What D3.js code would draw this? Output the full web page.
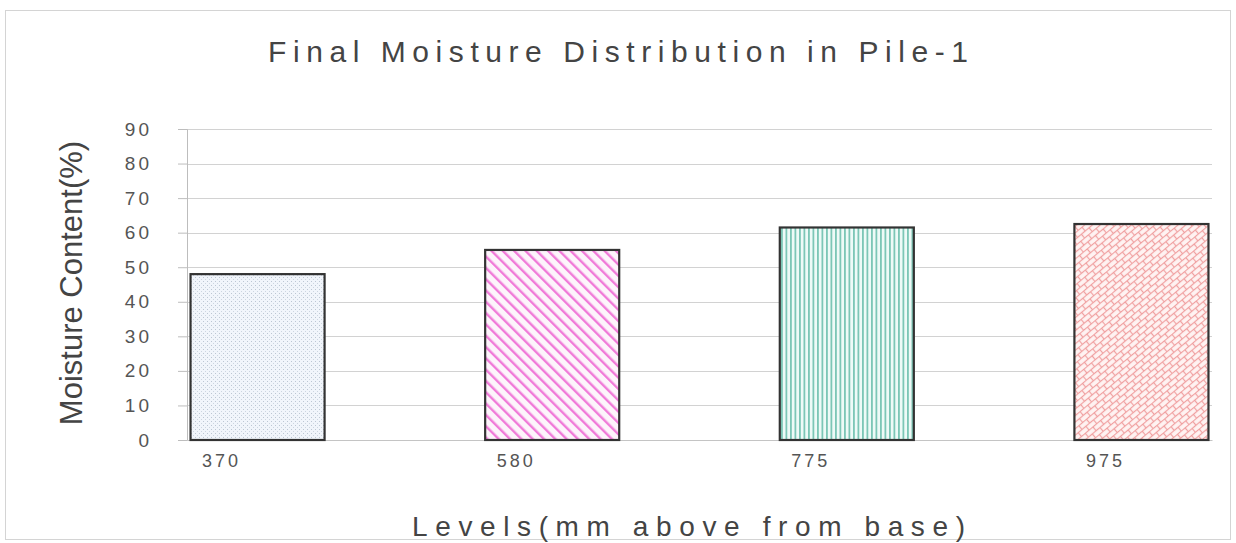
<!DOCTYPE html>
<html>
<head>
<meta charset="utf-8">
<script src="https://cdn.jsdelivr.net/npm/d3@7/dist/d3.min.js"></script>
<style>
  html, body { margin: 0; padding: 0; background: #fff; }
  svg { display: block; font-family: Arial, "Liberation Sans", sans-serif; }
</style>
</head>
<body>
<svg id="chart" width="1236" height="543"></svg>
<script>
// Final moisture content at each sampling level of the pile
const levels = ["370", "580", "775", "975"];
const moisture = [48, 55, 61.5, 62.5];
const yTicks = [0, 10, 20, 30, 40, 50, 60, 70, 80, 90];
const fills = ["dots", "diag", "vert", "brick"];

const W = 1236, H = 543;
const margin = { left: 187, right: 24, top: 129, bottom: 103 };
const plotW = W - margin.left - margin.right;
const plotH = H - margin.top - margin.bottom;

const svg = d3.select("#chart");

// Hatch patterns for the bars
const defs = svg.append("defs");

const pDots = defs.append("pattern").attr("id", "dots")
  .attr("patternUnits", "userSpaceOnUse").attr("width", 4).attr("height", 4);
pDots.append("rect").attr("width", 4).attr("height", 4).attr("fill", "#f1f5fb");
pDots.append("rect").attr("x", 0).attr("y", 0).attr("width", 1).attr("height", 1).attr("fill", "#bcc6d3");
pDots.append("rect").attr("x", 2).attr("y", 2).attr("width", 1).attr("height", 1).attr("fill", "#ccd5e0");

const pDiag = defs.append("pattern").attr("id", "diag")
  .attr("patternUnits", "userSpaceOnUse").attr("width", 8).attr("height", 8)
  .attr("patternTransform", "rotate(-45)");
pDiag.append("rect").attr("width", 8).attr("height", 8).attr("fill", "#fdf4fb");
pDiag.append("rect").attr("x", 0).attr("y", 0).attr("width", 2.4).attr("height", 8).attr("fill", "#f07ad8");

const pVert = defs.append("pattern").attr("id", "vert")
  .attr("patternUnits", "userSpaceOnUse").attr("width", 4.5).attr("height", 4);
pVert.append("rect").attr("width", 4.5).attr("height", 4).attr("fill", "#eefaf7");
pVert.append("rect").attr("x", 0).attr("y", 0).attr("width", 1.8).attr("height", 4).attr("fill", "#7cc6b6");

const pBrick = defs.append("pattern").attr("id", "brick")
  .attr("patternUnits", "userSpaceOnUse").attr("width", 10).attr("height", 10)
  .attr("patternTransform", "rotate(-40)");
pBrick.append("rect").attr("width", 10).attr("height", 10).attr("fill", "#fff3f2");
[[0, 0.5, 10, 0.5], [0, 5.5, 10, 5.5], [2.5, 0.5, 2.5, 5.5], [7.5, 5.5, 7.5, 10.5]].forEach(s => {
  pBrick.append("line").attr("x1", s[0]).attr("y1", s[1]).attr("x2", s[2]).attr("y2", s[3])
    .attr("stroke", "#f0a0a0").attr("stroke-width", 1.2);
});

// Outer frame
svg.append("rect")
  .attr("x", 5.5).attr("y", 10.5).attr("width", W - 11).attr("height", H - 14)
  .attr("fill", "none").attr("stroke", "#d4d4d4").attr("stroke-width", 1);

const g = svg.append("g").attr("transform", `translate(${margin.left},${margin.top})`);

const x = d3.scaleBand().domain(levels).range([0, plotW])
  .paddingInner(0.545).paddingOuter(0.012);
const y = d3.scaleLinear().domain([0, 90]).range([plotH, 0]);

// Horizontal gridlines
g.append("g").selectAll("line").data(yTicks.filter(d => d > 0)).join("line")
  .attr("x1", 0).attr("x2", plotW)
  .attr("y1", d => Math.round(y(d)) + 0.5).attr("y2", d => Math.round(y(d)) + 0.5)
  .attr("stroke", "#d2d2d2").attr("stroke-width", 1);

// Y axis
const yAxis = g.append("g")
  .call(d3.axisLeft(y).tickValues(yTicks).tickSize(9).tickPadding(26).tickFormat(d3.format("d")));
yAxis.select(".domain").attr("stroke", "#bdbdbd");
yAxis.selectAll(".tick line").attr("stroke", "#bdbdbd");
yAxis.selectAll(".tick text")
  .attr("fill", "#555").style("font-size", "19px").style("letter-spacing", "3px")
  .attr("font-family", "Arial, 'Liberation Sans', sans-serif");

// X axis baseline
const xAxis = g.append("g").attr("transform", `translate(0,${plotH})`)
  .call(d3.axisBottom(x).tickSize(0).tickPadding(14));
xAxis.select(".domain").attr("stroke", "#c4c4c4");
xAxis.selectAll(".tick text")
  .attr("fill", "#555").style("font-size", "18px").style("letter-spacing", "3px")
  .attr("font-family", "Arial, 'Liberation Sans', sans-serif")
  .attr("dx", -36);

// Bars
g.append("g").selectAll("rect").data(levels).join("rect")
  .attr("x", d => x(d))
  .attr("y", (d, i) => y(moisture[i]))
  .attr("width", x.bandwidth())
  .attr("height", (d, i) => plotH - y(moisture[i]))
  .attr("fill", (d, i) => `url(#${fills[i]})`)
  .attr("stroke", "#333").attr("stroke-width", 2.2);

// Title
svg.append("text")
  .attr("x", 268).attr("y", 62)
  .attr("fill", "#444")
  .attr("textLength", 700).attr("lengthAdjust", "spacing")
  .style("font-size", "30px")
  .text("Final Moisture Distribution in Pile-1");

// Axis titles
svg.append("text")
  .attr("x", 412).attr("y", 536)
  .attr("fill", "#444")
  .attr("textLength", 553).attr("lengthAdjust", "spacing")
  .style("font-size", "28px")
  .text("Levels(mm above from base)");

svg.append("text")
  .attr("transform", "translate(82,283) rotate(-90)")
  .attr("text-anchor", "middle")
  .attr("fill", "#444")
  .style("font-size", "31px")
  .text("Moisture Content(%)");
</script>
</body>
</html>
